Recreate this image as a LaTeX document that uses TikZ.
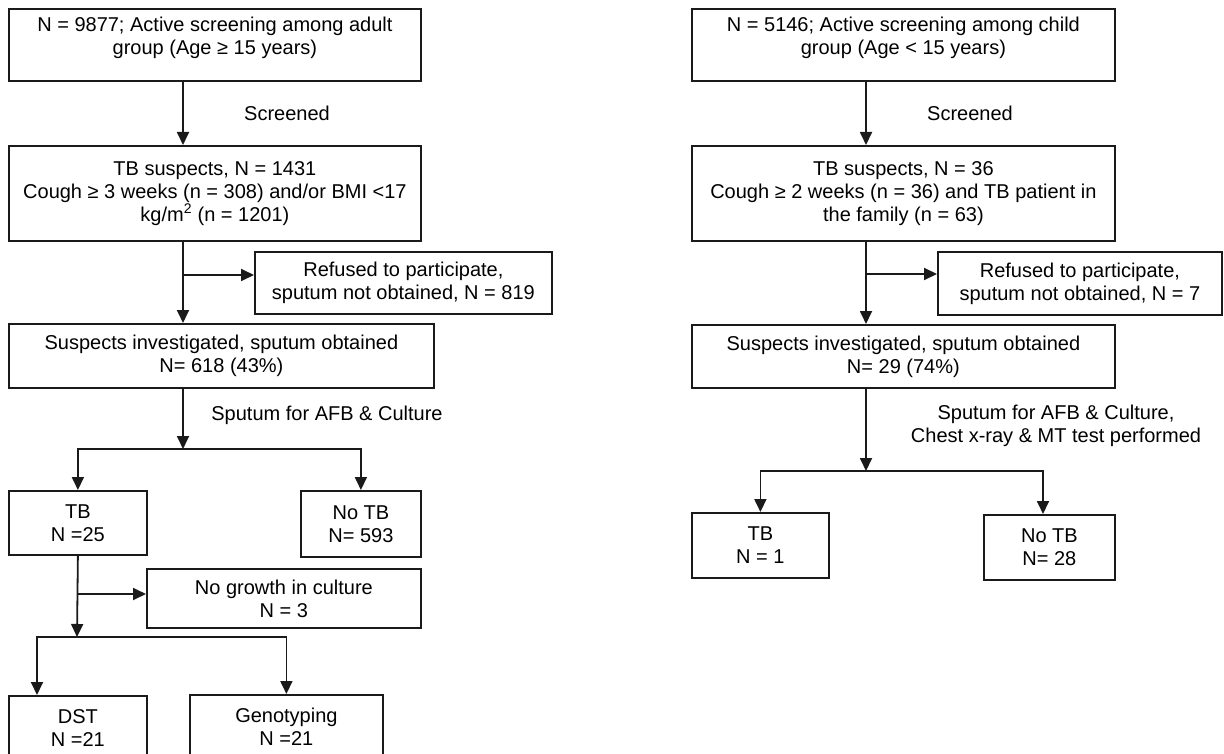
\documentclass[tikz,border=0pt]{standalone}
\usepackage{fontspec}
\setmainfont{Liberation Sans}
\usetikzlibrary{positioning, arrows.meta}
\definecolor{flowLine}{HTML}{1A1A1A}

\begin{document}
\begin{tikzpicture}[x=1pt, y=-1pt, font=\fontsize{20}{23}\selectfont,
    box/.style={draw=flowLine, line width=1.8pt, align=center, anchor=north west, inner sep=0pt},
    headbox/.style={box, text height=46pt, text depth=26pt},
    arr/.style={-{Triangle[length=13pt, width=12pt]}, line width=1.8pt, flowLine},
    link/.style={line width=1.8pt, flowLine}]
    \useasboundingbox (0,0) rectangle (1224,754);

    % adult group
    \node[headbox, minimum width=412pt] (adultScr) at (8,8) {N = 9877; Active screening among adult\\group (Age ≥ 15 years)};
    \node[box, minimum width=412pt, minimum height=95pt] (adultSus) at (8,145) {TB suspects, N = 1431\\Cough ≥ 3 weeks (n = 308) and/or BMI <17\\kg/m\textsuperscript{2} (n = 1201)};
    \node[box, minimum width=297pt, minimum height=62pt] (adultRef) at (254,251) {Refused to participate,\\sputum not obtained, N = 819};
    \node[box, minimum width=425pt, minimum height=64pt] (adultInv) at (8,323) {Suspects investigated, sputum obtained\\N= 618 (43\%)};
    \node[box, minimum width=138pt, minimum height=64pt] (adultTB) at (8,490) {TB\\N =25};
    \node[box, minimum width=120pt, minimum height=66pt] (adultNoTB) at (300,490) {No TB\\N= 593};
    \node[box, minimum width=274pt, minimum height=59pt] (adultNG) at (146,568) {No growth in culture\\N = 3};
    \node[box, minimum width=138pt, minimum height=64pt] (adultDST) at (8,695) {DST\\N =21};
    \node[box, minimum width=193pt, minimum height=64pt] (adultGeno) at (189,694) {Genotyping\\N =21};
    \node (adultScrLbl) at (287,113) {Screened};
    \node (adultAfbLbl) at (327,415) {Sputum for AFB \& Culture};

    \coordinate (adultTrunk) at (183,0);
    \coordinate (adultRefJ) at (183,275);
    \coordinate (adultSplit) at (183,449);
    \coordinate (adultNGJ) at (77,594);
    \coordinate (adultSplitB) at (77,637);
    \coordinate (adultDSTIn) at (37,0);

    \draw[arr] (adultScr.south -| adultTrunk) -- (adultSus.north -| adultTrunk);
    \draw[arr] (adultSus.south -| adultTrunk) -- (adultInv.north -| adultTrunk);
    \draw[arr] (adultRefJ) -- (adultRefJ -| adultRef.west);
    \draw[arr] (adultInv.south -| adultTrunk) -- (adultSplit);
    \draw[arr] (adultSplit) -| (adultTB.north);
    \draw[arr] (adultSplit) -| (adultNoTB.north);
    \draw[arr] (adultTB.south) -- (adultSplitB);
    \draw[arr] (adultNGJ) -- (adultNGJ -| adultNG.west);
    \draw[arr] (adultSplitB) -| (adultDST.north -| adultDSTIn);
    \draw[arr] (adultSplitB) -| (adultGeno.north);

    % child group
    \node[headbox, minimum width=423pt] (childScr) at (691,8) {N = 5146; Active screening among child\\group (Age < 15 years)};
    \node[box, minimum width=423pt, minimum height=95pt] (childSus) at (691,145) {TB suspects, N = 36\\Cough ≥ 2 weeks (n = 36) and TB patient in\\the family (n = 63)};
    \node[box, minimum width=284pt, minimum height=63pt] (childRef) at (937,251) {Refused to participate,\\sputum not obtained, N = 7};
    \node[box, minimum width=423pt, minimum height=63pt] (childInv) at (691,324) {Suspects investigated, sputum obtained\\N= 29 (74\%)};
    \node[box, minimum width=137pt, minimum height=65pt] (childTB) at (691,512) {TB\\N = 1};
    \node[box, minimum width=131pt, minimum height=65pt] (childNoTB) at (983,514) {No TB\\N= 28};
    \node (childScrLbl) at (970,113) {Screened};
    \node[align=center] (childAfbLbl) at (1056,426) {Sputum for AFB \& Culture,\\Chest x-ray \& MT test performed};

    \coordinate (childTrunk) at (866,0);
    \coordinate (childRefJ) at (866,274);
    \coordinate (childSplit) at (866,471);
    \coordinate (childNoIn) at (1043,0);

    \draw[arr] (childScr.south -| childTrunk) -- (childSus.north -| childTrunk);
    \draw[arr] (childSus.south -| childTrunk) -- (childInv.north -| childTrunk);
    \draw[arr] (childRefJ) -- (childRefJ -| childRef.west);
    \draw[arr] (childInv.south -| childTrunk) -- (childSplit);
    \draw[arr] (childSplit) -| (childTB.north);
    \draw[arr] (childSplit) -| (childNoTB.north -| childNoIn);
\end{tikzpicture}
\end{document}
